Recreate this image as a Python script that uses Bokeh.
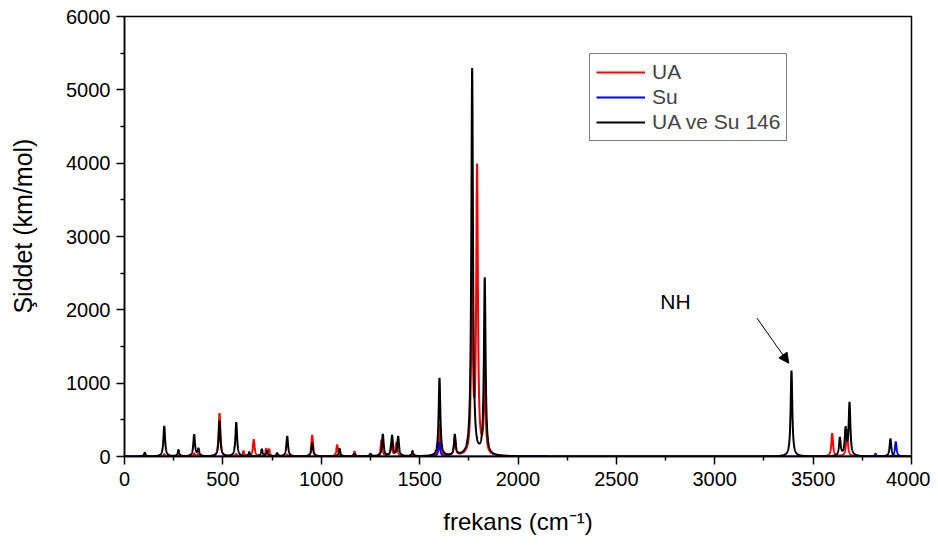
import numpy as np
from bokeh.plotting import figure
from bokeh.models import (Range1d, Legend, LegendItem, Label, Arrow, NormalHead,
                          ColumnDataSource, FixedTicker)
from bokeh.embed import file_html
from bokeh.resources import INLINE

# ---- data (peak positions cm-1, peak heights km/mol) ----
ua_freq = [103, 202, 278, 354, 376, 483, 568, 605, 657, 720, 735, 827, 954, 1081,
           1169, 1250, 1306, 1356, 1383, 1470, 1601, 1679, 1766, 1792, 1831, 3597, 3672]
ua_int = [25, 30, 20, 40, 35, 590, 30, 70, 230, 95, 90, 25, 290, 155,
          66, 25, 220, 175, 190, 20, 440, 240, 2400, 3890, 1100, 315, 370]

su_freq = [1600, 3817, 3920]
su_int = [196, 36, 200]

mix_freq = [103, 202, 274, 354, 376, 483, 568, 634, 698, 725, 776, 827, 954, 1093,
            1169, 1250, 1313, 1360, 1391, 1464, 1601, 1679, 1767, 1831, 3390,
            3636, 3665, 3685, 3893]
mix_int = [50, 415, 85, 295, 95, 480, 465, 55, 95, 70, 42, 275, 185, 105,
           34, 34, 300, 280, 265, 68, 1065, 280, 5280, 2410, 1170,
           245, 360, 720, 242]

hwhm = 5.0  # Lorentzian half width at half height (cm-1)

x_ticks = [0, 500, 1000, 1500, 2000, 2500, 3000, 3500, 4000]
y_ticks = [0, 1000, 2000, 3000, 4000, 5000, 6000]

series_names = ["UA", "Su", "UA ve Su 146"]
series_colors = ["#ff0000", "#0000ff", "#000000"]

x_title = "frekans (cm\u207b\u00b9)"
y_title = "\u015eiddet (km/mol)"

# ---- broadened spectra from the peak lists ----
grid = np.arange(0.0, 4000.25, 0.5)


def broaden(centers, heights):
    y = np.zeros_like(grid)
    for c, h in zip(centers, heights):
        y += h / (1.0 + ((grid - c) / hwhm) ** 2)
    return y


src = ColumnDataSource(dict(
    x=grid,
    ua=broaden(ua_freq, ua_int),
    su=broaden(su_freq, su_int),
    mix=broaden(mix_freq, mix_int),
))

FONT = "Liberation Sans"

p = figure(width=930, height=537, output_backend="svg", toolbar_location=None,
           x_range=Range1d(0, 4000), y_range=Range1d(0, 6000),
           min_border_left=124, min_border_right=19, min_border_top=16,
           min_border_bottom=81)
p.background_fill_color = "white"
p.border_fill_color = "white"
p.outline_line_color = "black"
p.outline_line_width = 1.5
p.xgrid.visible = False
p.ygrid.visible = False

r_ua = p.line("x", "ua", source=src, line_color=series_colors[0], line_width=2)
r_su = p.line("x", "su", source=src, line_color=series_colors[1], line_width=2)
r_mix = p.line("x", "mix", source=src, line_color=series_colors[2], line_width=2)

x_minor = [(a + b) / 2 for a, b in zip(x_ticks[:-1], x_ticks[1:])]
y_minor = [(a + b) / 2 for a, b in zip(y_ticks[:-1], y_ticks[1:])]
p.xaxis.ticker = FixedTicker(ticks=x_ticks, minor_ticks=x_minor)
p.yaxis.ticker = FixedTicker(ticks=y_ticks, minor_ticks=y_minor)

for ax in (p.xaxis, p.yaxis):
    ax.axis_line_color = "black"
    ax.axis_line_width = 1.5
    ax.major_tick_line_color = "black"
    ax.major_tick_line_width = 1.5
    ax.minor_tick_line_color = "black"
    ax.minor_tick_line_width = 1.5
    ax.major_tick_out = 8
    ax.major_tick_in = 0
    ax.minor_tick_out = 4
    ax.minor_tick_in = 0
    ax.major_label_text_font = FONT
    ax.major_label_text_font_size = "20px"
    ax.major_label_text_color = "black"
    ax.axis_label_text_font = FONT
    ax.axis_label_text_font_style = "normal"
    ax.axis_label_text_color = "black"

p.xaxis.axis_label_text_font_size = "24px"
p.yaxis.axis_label_text_font_size = "25px"
p.xaxis.axis_label = x_title
# leading no-break spaces lift the rotated title a little above the frame centre
p.yaxis.axis_label = "\u00a0\u00a0\u00a0" + y_title
p.xaxis.major_label_standoff = 7
p.yaxis.major_label_standoff = 6
p.xaxis.axis_label_standoff = 19
p.yaxis.axis_label_standoff = 26

legend = Legend(items=[
    LegendItem(label=series_names[0], renderers=[r_ua]),
    LegendItem(label=series_names[1], renderers=[r_su]),
    LegendItem(label=series_names[2], renderers=[r_mix]),
], location=(465, 315))
legend.border_line_color = "black"
legend.border_line_width = 1
legend.background_fill_color = "white"
legend.background_fill_alpha = 1
legend.label_text_font = FONT
legend.label_text_font_size = "21px"
legend.glyph_width = 49
legend.glyph_height = 20
legend.label_height = 20
legend.label_standoff = 7
legend.padding = 6
legend.spacing = 1
legend.margin = 0
p.add_layout(legend)

p.add_layout(Label(x=2800, y=2114, text="NH", text_align="center", text_baseline="middle",
                   text_font=FONT, text_font_size="21px", text_color="black"))
p.add_layout(Arrow(end=NormalHead(size=10, fill_color="black", line_color="black"),
                   x_start=3215, y_start=1886, x_end=3376, y_end=1272,
                   line_color="black", line_width=1))

open("out.html", "w").write(file_html(p, INLINE))
